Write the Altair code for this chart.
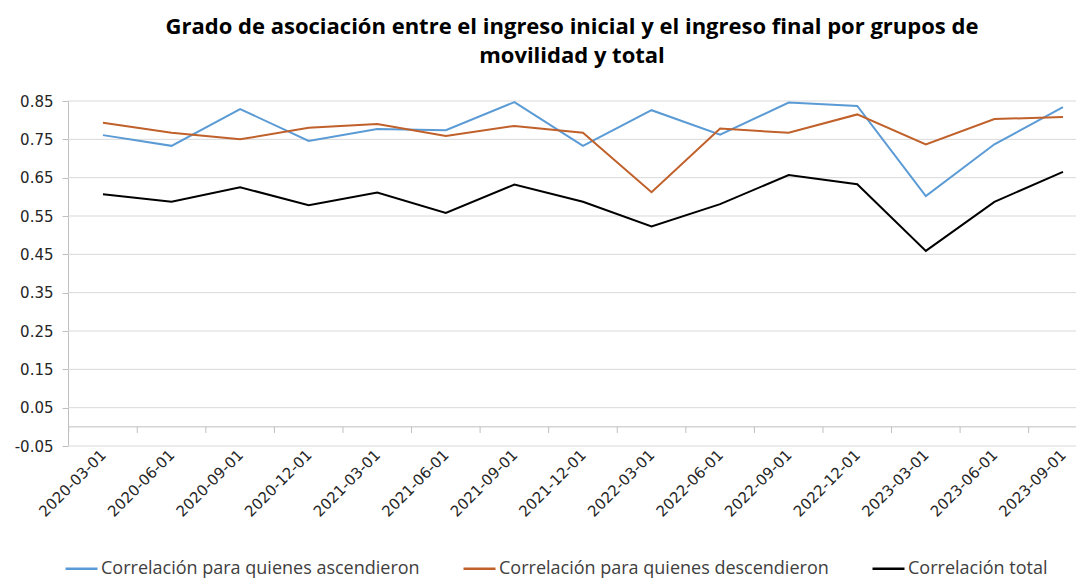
import altair as alt
import pandas as pd

dates = ["2020-03-01", "2020-06-01", "2020-09-01", "2020-12-01", "2021-03-01",
         "2021-06-01", "2021-09-01", "2021-12-01", "2022-03-01", "2022-06-01",
         "2022-09-01", "2022-12-01", "2023-03-01", "2023-06-01", "2023-09-01"]
asc = [0.761, 0.733, 0.829, 0.746, 0.777, 0.774, 0.847, 0.733, 0.826, 0.762,
       0.846, 0.837, 0.602, 0.737, 0.834]
desc = [0.793, 0.767, 0.750, 0.780, 0.790, 0.759, 0.785, 0.767, 0.612, 0.778,
        0.767, 0.815, 0.737, 0.803, 0.808]
total = [0.607, 0.587, 0.625, 0.578, 0.611, 0.558, 0.632, 0.587, 0.523, 0.581,
         0.657, 0.633, 0.459, 0.587, 0.665]
series_names = ["Correlación para quienes ascendieron",
                "Correlación para quienes descendieron",
                "Correlación total"]
series_colors = ["#5B9BD5", "#C0602A", "#000000"]
y_ticks = [-0.05, 0.05, 0.15, 0.25, 0.35, 0.45, 0.55, 0.65, 0.75, 0.85]
title_lines = ["Grado de asociación entre el ingreso inicial y el ingreso final por grupos de",
               "movilidad y total"]

rows = []
for i, d in enumerate(dates):
    for name, vals in zip(series_names, [asc, desc, total]):
        rows.append({"idx": i, "fecha": d, "serie": name, "valor": vals[i]})
df = pd.DataFrame(rows)

x_dom = [-0.51, 14.19]
bounds = [i - 0.5 for i in range(len(dates) + 1)]
bounds = [b for b in bounds if x_dom[0] <= b <= x_dom[1]]
df_ticks = pd.DataFrame({"idx": bounds, "y0": 0.0, "y1": -0.016})
df_base = pd.DataFrame({"valor": [0.0]})
df_grid = pd.DataFrame({"valor": y_ticks})

xscale = alt.Scale(domain=x_dom, nice=False, zero=False)
yscale = alt.Scale(domain=[-0.05, 0.85], nice=False, zero=False)

label_expr = "[" + ",".join(f"'{d}'" for d in dates) + "][datum.value]"
x_axis = alt.Axis(values=list(range(len(dates))), labelExpr=label_expr, labelAngle=-45,
                  labelAlign="right", labelBaseline="middle", ticks=False, domain=False,
                  grid=False, title=None, labelPadding=6, labelFont="DejaVu Sans",
                  labelFontSize=15, labelColor="#262626", labelOverlap=False)
y_axis = alt.Axis(values=y_ticks,
                  labelExpr="datum.value < 0 ? '-' + format(-datum.value, '.2f') : format(datum.value, '.2f')",
                  grid=False, domainColor="#BFBFBF", labelOverlap=False,
                  tickColor="#BFBFBF", tickSize=6, labelPadding=9, title=None,
                  labelFont="DejaVu Sans", labelFontSize=15, labelColor="#262626")

grid_rules = alt.Chart(df_grid).mark_rule(color="#D9D9D9", strokeWidth=1).encode(
    y=alt.Y("valor:Q", scale=yscale, axis=y_axis)
)
base_rule = alt.Chart(df_base).mark_rule(color="#BFBFBF", strokeWidth=1).encode(
    y=alt.Y("valor:Q", scale=yscale, axis=y_axis)
)
tick_rules = alt.Chart(df_ticks).mark_rule(color="#BFBFBF", strokeWidth=1).encode(
    x=alt.X("idx:Q", scale=xscale, axis=x_axis),
    y=alt.Y("y0:Q", scale=yscale, axis=y_axis),
    y2="y1:Q",
)
lines = alt.Chart(df).mark_line(strokeWidth=2).encode(
    x=alt.X("idx:Q", scale=xscale, axis=x_axis),
    y=alt.Y("valor:Q", scale=yscale, axis=y_axis),
    color=alt.Color("serie:N", scale=alt.Scale(domain=series_names, range=series_colors),
                    legend=alt.Legend(orient="none", legendX=-4, legendY=450,
                                      direction="horizontal", title=None,
                                      symbolType="stroke", symbolSize=1024,
                                      symbolStrokeWidth=2.5, labelFont="Open Sans",
                                      labelFontSize=18, labelColor="#404040",
                                      columnPadding=38, labelOffset=2, labelLimit=600)),
    order=alt.Order("idx:Q"),
)

chart = alt.layer(grid_rules, base_rule, tick_rules, lines).properties(
    width=1008, height=345,
    title=alt.TitleParams(text=title_lines, font="Open Sans", fontWeight="bold",
                          fontSize=22, lineHeight=29, anchor="middle", offset=26,
                          color="#000000"),
    autosize=alt.AutoSizeParams(type="none"),
    padding={"left": 60, "top": 93, "right": 2, "bottom": 132},
).configure_view(stroke=None).configure_axis(labelOverlap=False)

chart.save("out.html", embed_options={"renderer": "svg", "actions": False})
